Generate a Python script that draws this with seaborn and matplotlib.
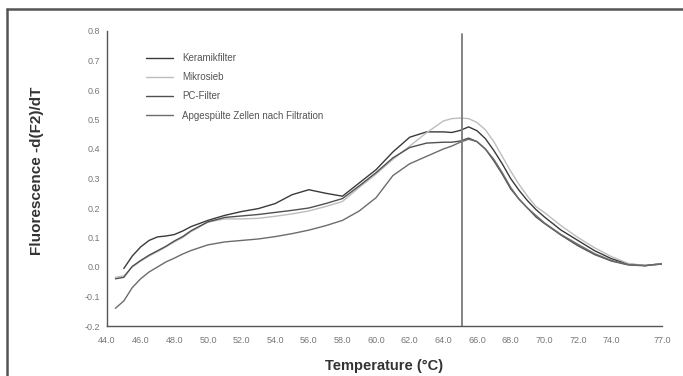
import numpy as np
import pandas as pd
import seaborn as sns
import matplotlib.pyplot as plt
from matplotlib.lines import Line2D

# melting curve data
temps = [44.5, 45, 45.5, 46, 46.5, 47, 47.5, 48, 48.5, 49, 50, 51, 52, 53, 54, 55, 56, 57,
         58, 59, 60, 61, 62, 63, 64, 64.5, 65, 65.5, 66, 66.5, 67, 67.5, 68, 68.5, 69,
         69.5, 70, 71, 72, 73, 74, 75, 76, 76.5, 77]

keramik = [np.nan, -0.005, 0.037, 0.068, 0.09, 0.102, 0.105, 0.11, 0.122, 0.137, 0.158,
           0.175, 0.188, 0.198, 0.215, 0.245, 0.262, 0.25, 0.24, 0.285, 0.33, 0.39, 0.44,
           0.458, 0.458, 0.456, 0.463, 0.475, 0.462, 0.435, 0.395, 0.35, 0.30, 0.26, 0.225,
           0.195, 0.17, 0.125, 0.09, 0.055, 0.028, 0.01, 0.005, 0.008, 0.01]

mikrosieb = [-0.035, -0.03, 0.0, 0.02, 0.037, 0.052, 0.068, 0.085, 0.10, 0.12, 0.152,
             0.163, 0.163, 0.165, 0.172, 0.18, 0.19, 0.205, 0.222, 0.27, 0.315, 0.365, 0.41,
             0.455, 0.495, 0.503, 0.505, 0.503, 0.49, 0.465, 0.425, 0.375, 0.325, 0.28, 0.24,
             0.205, 0.185, 0.14, 0.10, 0.065, 0.035, 0.012, 0.005, 0.008, 0.01]

pc_filter = [-0.04, -0.035, 0.002, 0.022, 0.04, 0.055, 0.07, 0.088, 0.103, 0.123, 0.153,
             0.168, 0.173, 0.178, 0.185, 0.192, 0.20, 0.215, 0.232, 0.275, 0.32, 0.37, 0.405,
             0.42, 0.423, 0.423, 0.427, 0.437, 0.425, 0.40, 0.36, 0.315, 0.265, 0.23, 0.20,
             0.17, 0.148, 0.108, 0.072, 0.042, 0.02, 0.007, 0.004, 0.008, 0.01]

zellen = [-0.14, -0.115, -0.07, -0.04, -0.017, 0.0, 0.017, 0.03, 0.044, 0.056, 0.075,
          0.085, 0.09, 0.095, 0.103, 0.113, 0.125, 0.14, 0.158, 0.19, 0.235, 0.31, 0.35,
          0.375, 0.40, 0.41, 0.423, 0.433, 0.425, 0.40, 0.365, 0.32, 0.27, 0.23, 0.20,
          0.175, 0.15, 0.11, 0.077, 0.045, 0.022, 0.008, 0.005, 0.008, 0.01]

series = {
    "Keramikfilter": keramik,
    "Mikrosieb": mikrosieb,
    "PC-Filter": pc_filter,
    "Apgespülte Zellen nach Filtration": zellen,
}
colors = {
    "Keramikfilter": "#3a3a3a",
    "Mikrosieb": "#bdbdbd",
    "PC-Filter": "#505050",
    "Apgespülte Zellen nach Filtration": "#6c6c6c",
}

x_ticks = [44, 46, 48, 50, 52, 54, 56, 58, 60, 62, 64, 66, 68, 70, 72, 74, 76, 77]
x_labels = ["%.1f" % t if t != 76 else "" for t in x_ticks]
y_ticks = [-0.2, -0.1, 0.0, 0.1, 0.2, 0.3, 0.4, 0.5, 0.6, 0.7, 0.8]
tm_line = 65.1

df = pd.concat([pd.DataFrame({"temp": temps, "value": v, "sample": k})
                for k, v in series.items()], ignore_index=True)

sns.set_theme(style="white")
plt.rcParams['font.family'] = ['Liberation Sans', 'DejaVu Sans']

fig = plt.figure(figsize=(6.83, 3.76), dpi=100)
ax = fig.add_axes([107 / 683, 1 - 326 / 376, 555 / 683, 295 / 376])

sns.lineplot(data=df, x="temp", y="value", hue="sample", palette=colors,
             linewidth=1.0, ax=ax, legend=False)

ax.axvline(tm_line, ymax=0.99, color="#7a7a7a", linewidth=1.3)

ax.set_xlim(44, 77)
ax.set_ylim(-0.2, 0.8)
ax.set_xticks(x_ticks)
ax.set_xticklabels(x_labels)
ax.set_yticks(y_ticks)
ax.set_yticklabels(["%.1f" % t for t in y_ticks])
ax.tick_params(axis="both", labelsize=6.5, labelcolor="#777777", color="#8a8a8a",
               length=3, width=0.8, direction="out", pad=2)
ax.tick_params(axis="x", pad=4)
ax.set_xlabel("")
ax.set_ylabel("")
sns.despine(ax=ax)
for s in ["left", "bottom"]:
    ax.spines[s].set_color("#555555")
    ax.spines[s].set_linewidth(1.0)

handles = [Line2D([], [], color=colors[k], linewidth=1.0) for k in series]
ax.legend(handles, list(series.keys()), loc="upper left", bbox_to_anchor=(0.055, 0.955),
          frameon=False, fontsize=7, handlelength=2.8, labelspacing=0.95,
          handletextpad=0.9, labelcolor="#555555")

fig.text(37 / 683, 1 - 171 / 376, "Fluorescence -d(F2)/dT", rotation=90, ha="center",
         va="center", fontsize=11, fontweight="bold", color="#333333")
fig.text(384 / 683, 1 - 366 / 376, "Temperature (°C)", ha="center", va="center",
         fontsize=10.5, fontweight="bold", color="#333333")

# frame around the figure (left and top edges are visible)
fig.add_artist(Line2D([7 / 683, 7 / 683], [0, 1 - 9 / 376], transform=fig.transFigure,
                      color="#555555", linewidth=1.8))
fig.add_artist(Line2D([7 / 683, 1], [1 - 9 / 376, 1 - 9 / 376], transform=fig.transFigure,
                      color="#555555", linewidth=1.8))

fig.savefig("out.png", dpi=100)
